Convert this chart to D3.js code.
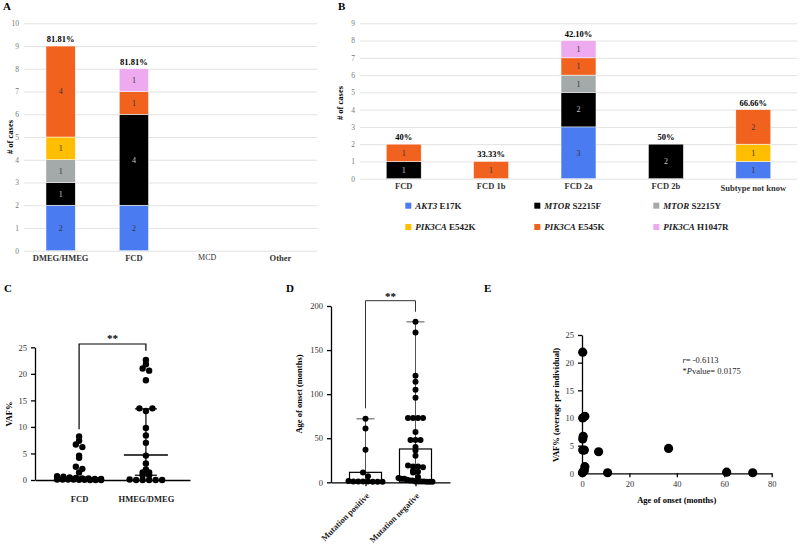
<!DOCTYPE html>
<html><head><meta charset="utf-8">
<script src="https://cdn.jsdelivr.net/npm/d3@7"></script>
<style>
body{margin:0;background:#fff}
svg{display:block}
text{font-family:"Liberation Serif","Times New Roman",serif}
</style>
</head><body>
<svg id="chart" width="800" height="548"></svg>
<script>
// ---------------- DATA ----------------
const mutations   = ["AKT3 E17K","MTOR S2215F","MTOR S2215Y","PIK3CA E542K","PIK3CA E545K","PIK3CA H1047R"];
const geneNames   = ["AKT3","MTOR","MTOR","PIK3CA","PIK3CA","PIK3CA"];
const variantNames= ["E17K","S2215F","S2215Y","E542K","E545K","H1047R"];
const mutationColors = ["#4a7bf0","#000000","#a4aaa9","#ffbf00","#f2621f","#eeaaee"];

// Panel A
const catsA   = ["DMEG/HMEG","FCD","MCD","Other"];
const akt3A   = [2,2,0,0];
const mtorFA  = [1,4,0,0];
const mtorYA  = [1,0,0,0];
const e542kA  = [1,0,0,0];
const e545kA  = [4,1,0,0];
const h1047rA = [0,1,0,0];
const pctA    = ["81.81%","81.81%","",""];
const ticksA  = [0,1,2,3,4,5,6,7,8,9,10];

// Panel B
const catsB   = ["FCD","FCD 1b","FCD 2a","FCD 2b","Subtype not know"];
const akt3B   = [0,0,3,0,1];
const mtorFB  = [1,0,2,2,0];
const mtorYB  = [0,0,1,0,0];
const e542kB  = [0,0,0,0,1];
const e545kB  = [1,1,1,0,2];
const h1047rB = [0,0,1,0,0];
const pctB    = ["40%","33.33%","42.10%","50%","66.66%"];
const ticksB  = [0,1,2,3,4,5,6,7,8,9];

// Panel C (VAF%)
const groupsC = ["FCD","HMEG/DMEG"];
const vafFCD  = [8.2,7.4,6.7,6.2,4.6,4.2,2.5,2.1,1.4,0.7,0.6,0.5,0.4,0.3,0.3,0.2,0.2,0.1,0.1,0.1,0.1,0.05,0.05,0,0,0];
const vafHMEG = [22.6,21.8,21.0,20.6,18.8,13.5,13.0,13.5,9.8,8.4,7.0,4.6,3.1,2.0,1.4,1.4,0.9,0.9,0.1,0,0,0,0,0];
const vafMedian = [0.1,4.7];
const vafQ1     = [0,0.9];
const vafQ3     = [0.5,13.4];
const ticksC  = [0,5,10,15,20,25];

// Panel D (age of onset)
const groupsD = ["Mutation positive","Mutation negative"];
const onsetPositive = [72,61,37,11,7,1.5,1,1,1,1,0.5,0.5,0.5];
const onsetNegative = [182,170,121,114,105,96,73,73,73,73,57,48,48,48,40,36,30,19,18,18,17,13,12,11,6,5,4,4,3,2,2,1,1,1,1,0.5,0.5,0.5];
const onsetBar = [11.3,37.8];
const onsetMax = [72,182];
const ticksD  = [0,50,100,150,200];

// Panel E (correlation)
const ageE = [0.3,0.3,1.2,0.5,0.3,0.3,1.0,7.0,36.5,1.2,0.5,1.0,10.8,61,72,0.2];
const vafE = [21.9,10.0,10.3,6.7,6.2,4.2,4.2,3.9,4.5,1.2,0.3,0.5,0.1,0.2,0.1,0.1];
const ticksEx = [0,20,40,60,80];
const ticksEy = [0,5,10,15,20,25];

// ---------------- DRAW ----------------
const svg = d3.select("#chart");
svg.append("rect").attr("width",800).attr("height",548).attr("fill","#fff");

function panelLetter(t,x,y){
  svg.append("text").attr("x",x).attr("y",y).attr("font-size",11).attr("font-weight","bold").text(t);
}

function stackedPanel(cfg){
  const {cats, series, pct, ticks, yDomain, yRange, xRange, g} = cfg;
  const rows = cats.map((c,i)=>{const r={cat:c}; mutations.forEach((m,k)=>r[m]=series[k][i]); return r;});
  const y = d3.scaleLinear().domain(yDomain).range(yRange);
  const x = d3.scaleBand().domain(cats).range(xRange).paddingInner(0.6).paddingOuter(0.3);
  const w = xRange[1]-xRange[0];
  const ya = g.append("g").attr("transform",`translate(${xRange[0]},0)`)
    .call(d3.axisLeft(y).tickValues(ticks).tickSize(-w).tickPadding(5).tickFormat(d3.format("d")));
  ya.select(".domain").remove();
  ya.selectAll("line").attr("stroke","#e2e2e2");
  ya.selectAll("text").attr("fill","#777").attr("font-size",7.5).attr("font-family","Liberation Serif, serif");
  const stacked = d3.stack().keys(mutations)(rows);
  stacked.forEach((s,k)=>{
    s.forEach(d=>{
      if(d[1]-d[0]<=0) return;
      g.append("rect").attr("x",x(d.data.cat)).attr("width",x.bandwidth())
        .attr("y",y(d[1])).attr("height",y(d[0])-y(d[1]))
        .attr("fill",mutationColors[k]).attr("stroke","#fff").attr("stroke-width",0.5);
      g.append("text").attr("x",x(d.data.cat)+x.bandwidth()/2).attr("y",(y(d[0])+y(d[1]))/2)
        .attr("dy","0.35em").attr("text-anchor","middle").attr("font-size",8)
        .attr("fill",k===1?"#c8c8c8":"#333").text(d[1]-d[0]);
    });
  });
  rows.forEach((r,i)=>{
    const tot = d3.sum(mutations,m=>r[m]);
    if(!pct[i]) return;
    g.append("text").attr("x",x(r.cat)+x.bandwidth()/2).attr("y",y(tot)-4)
      .attr("text-anchor","middle").attr("font-size",8.5).attr("font-weight","bold").text(pct[i]);
  });
  const xa = g.append("g").attr("transform",`translate(0,${yRange[0]})`)
    .call(d3.axisBottom(x).tickSize(0).tickPadding(4));
  xa.select(".domain").remove();
  xa.selectAll("text").attr("font-size",8.5).attr("font-weight","bold").attr("fill","#333")
    .attr("font-family","Liberation Serif, serif");
  return {x,y,xa};
}

// Panel A
panelLetter("A",3,10);
const gA = svg.append("g");
const pA = stackedPanel({cats:catsA, series:[akt3A,mtorFA,mtorYA,e542kA,e545kA,h1047rA], pct:pctA, ticks:ticksA,
  yDomain:[0,10], yRange:[250.7,23.3], xRange:[24,317], g:gA});
pA.xa.selectAll("text").filter(d=>d==="MCD").attr("font-weight","normal").attr("font-size",8);
gA.append("text").attr("transform","translate(13,137) rotate(-90)").attr("text-anchor","middle")
  .attr("font-size",8.5).attr("font-weight","bold").text("# of cases");

// Panel B
panelLetter("B",338,10);
const gB = svg.append("g");
const pB = stackedPanel({cats:catsB, series:[akt3B,mtorFB,mtorYB,e542kB,e545kB,h1047rB], pct:pctB, ticks:ticksB,
  yDomain:[0,9], yRange:[178.7,23.3], xRange:[360,797], g:gB});
pB.xa.selectAll("text").filter(d=>d==="Subtype not know").attr("dy","0.95em");
gB.append("text").attr("transform","translate(343,103) rotate(-90)").attr("text-anchor","middle")
  .attr("font-size",8.5).attr("font-weight","bold").text("# of cases");

// Legend
const legX = [405.3,534.3,653.3], legY = [205.7,227];
mutations.forEach((m,i)=>{
  const lx = legX[i%3], ly = legY[Math.floor(i/3)];
  gB.append("rect").attr("x",lx).attr("y",ly-3).attr("width",6).attr("height",6).attr("fill",mutationColors[i]);
  const t = gB.append("text").attr("x",lx+10).attr("y",ly).attr("dy","0.35em").attr("font-size",9).attr("font-weight","bold").attr("fill","#222");
  t.append("tspan").attr("font-style","italic").text(geneNames[i]);
  t.append("tspan").text(" "+variantNames[i]);
});

// swarm helper (deterministic horizontal spreading of points sharing a row)
function swarm(vals, y, binPx, spacing, maxW){
  const pts = vals.map(v=>({v, py:y(v)}));
  const bins = d3.group(pts, d=>Math.round(d.py/binPx));
  for(const arr of bins.values()){
    const n = arr.length;
    const s = n>1 ? Math.min(spacing, maxW/(n-1)) : 0;
    arr.forEach((d,j)=>d.dx=(j-(n-1)/2)*s);
  }
  return pts;
}
function styleAxis(a){
  a.selectAll("path,line").attr("stroke","#000").attr("stroke-width",1.3);
  a.selectAll("text").attr("font-size",8.5).attr("fill","#333").attr("font-family","Liberation Serif, serif");
}

// Panel C
panelLetter("C",4,292);
const gC = svg.append("g");
const yC = d3.scaleLinear().domain([0,25]).range([480,347.3]);
const xC = d3.scalePoint().domain(groupsC).range([35,190]).padding(0.66);
const ayC = gC.append("g").attr("transform","translate(35,0)")
  .call(d3.axisLeft(yC).tickValues(ticksC).tickSize(4).tickSizeOuter(0).tickPadding(4));
styleAxis(ayC);
const axC = gC.append("g").attr("transform",`translate(0,${yC(0)})`)
  .call(d3.axisBottom(xC).tickSize(0).tickSizeOuter(0).tickPadding(16));
styleAxis(axC);
axC.selectAll("text").attr("font-weight","bold").attr("fill","#222");
[vafFCD,vafHMEG].forEach((vals,gi)=>{
  const cx = xC(groupsC[gi]);
  swarm(vals,yC,4.5,6.5,44).forEach(d=>{
    gC.append("circle").attr("cx",cx+d.dx).attr("cy",d.py).attr("r",3.2).attr("fill","#000");
  });
  gC.append("line").attr("x1",cx).attr("x2",cx).attr("y1",yC(vafQ1[gi])).attr("y2",yC(vafQ3[gi])).attr("stroke","#000").attr("stroke-width",1.2);
  [vafQ1[gi],vafQ3[gi]].forEach(q=>gC.append("line").attr("x1",cx-11).attr("x2",cx+11).attr("y1",yC(q)).attr("y2",yC(q)).attr("stroke","#000").attr("stroke-width",1.2));
  gC.append("line").attr("x1",cx-22).attr("x2",cx+22).attr("y1",yC(vafMedian[gi])).attr("y2",yC(vafMedian[gi])).attr("stroke","#000").attr("stroke-width",1.4);
});
gC.append("path").attr("d",`M${xC(groupsC[0])},429.3V344H${xC(groupsC[1])}V350.7`).attr("fill","none").attr("stroke","#000").attr("stroke-width",1.2);
gC.append("text").attr("x",(xC(groupsC[0])+xC(groupsC[1]))/2).attr("y",342).attr("text-anchor","middle").attr("font-size",11).attr("font-weight","bold").text("**");
gC.append("text").attr("transform","translate(12,414) rotate(-90)").attr("text-anchor","middle")
  .attr("font-size",8.5).attr("font-weight","bold").text("VAF%");

// Panel D
panelLetter("D",286,292);
const gD = svg.append("g");
const yD = d3.scaleLinear().domain([0,200]).range([482.3,306]);
const xD = d3.scalePoint().domain(groupsD).range([331,450]).padding(0.69);
[onsetPositive,onsetNegative].forEach((vals,gi)=>{
  const cx = xD(groupsD[gi]);
  gD.append("line").attr("x1",cx).attr("x2",cx).attr("y1",yD(0)).attr("y2",yD(onsetMax[gi])).attr("stroke","#555").attr("stroke-width",1);
  gD.append("line").attr("x1",cx-9).attr("x2",cx+9).attr("y1",yD(onsetMax[gi])).attr("y2",yD(onsetMax[gi])).attr("stroke","#555").attr("stroke-width",1);
  gD.append("rect").attr("x",cx-16).attr("width",32).attr("y",yD(onsetBar[gi])).attr("height",yD(0)-yD(onsetBar[gi]))
    .attr("fill","none").attr("stroke","#000").attr("stroke-width",1.2);
  swarm(vals,yD,5,5,34).forEach(d=>{
    gD.append("circle").attr("cx",cx+d.dx).attr("cy",d.py).attr("r",3).attr("fill","#000");
  });
});
const ayD = gD.append("g").attr("transform","translate(331,0)")
  .call(d3.axisLeft(yD).tickValues(ticksD).tickSize(4).tickSizeOuter(0).tickPadding(4));
styleAxis(ayD);
const axD = gD.append("g").attr("transform",`translate(0,${yD(0)})`)
  .call(d3.axisBottom(xD).tickSize(4).tickSizeOuter(0));
styleAxis(axD);
axD.selectAll("text").attr("font-weight","bold").attr("fill","#222").attr("text-anchor","end")
  .attr("y",0).attr("dy",0).attr("transform","translate(4,14) rotate(-45)");
gD.append("path").attr("d",`M${xD(groupsD[0])},408.3V300.7H${xD(groupsD[1])}V311.7`).attr("fill","none").attr("stroke","#333").attr("stroke-width",1);
gD.append("text").attr("x",(xD(groupsD[0])+xD(groupsD[1]))/2).attr("y",300).attr("text-anchor","middle").attr("font-size",11).attr("font-weight","bold").text("**");
gD.append("text").attr("transform","translate(302,394) rotate(-90)").attr("text-anchor","middle")
  .attr("font-size",8.5).attr("font-weight","bold").text("Age of onset (months)");

// Panel E
panelLetter("E",484,292);
const gE = svg.append("g");
const xE = d3.scaleLinear().domain([0,80]).range([582,771.7]);
const yE = d3.scaleLinear().domain([0,25]).range([473.3,335]);
ageE.forEach((a,i)=>{
  gE.append("circle").attr("cx",xE(a)).attr("cy",yE(vafE[i])).attr("r",4.6).attr("fill","#000");
});
const ayE = gE.append("g").attr("transform","translate(582,0)")
  .call(d3.axisLeft(yE).tickValues(ticksEy).tickSize(4).tickSizeOuter(0).tickPadding(4));
styleAxis(ayE);
const axE = gE.append("g").attr("transform",`translate(0,${yE(0)})`)
  .call(d3.axisBottom(xE).tickValues(ticksEx).tickSize(4).tickSizeOuter(0).tickPadding(4));
styleAxis(axE);
gE.append("text").attr("x",676.7).attr("y",502.5).attr("text-anchor","middle").attr("font-size",8.5).attr("font-weight","bold").text("Age of onset (months)");
gE.append("text").attr("transform","translate(559,405) rotate(-90)").attr("text-anchor","middle")
  .attr("font-size",8.5).attr("font-weight","bold").text("VAF% (average per individual)");
const t1 = gE.append("text").attr("x",682.5).attr("y",363).attr("font-size",8.5).attr("fill","#222");
t1.append("tspan").attr("font-style","italic").text("r");
t1.append("tspan").text("= -0.6113");
const t2 = gE.append("text").attr("x",682.5).attr("y",374).attr("font-size",8.5).attr("fill","#222");
t2.append("tspan").text("*");
t2.append("tspan").attr("font-style","italic").text("P");
t2.append("tspan").text("value= 0.0175");
</script>
</body></html>
